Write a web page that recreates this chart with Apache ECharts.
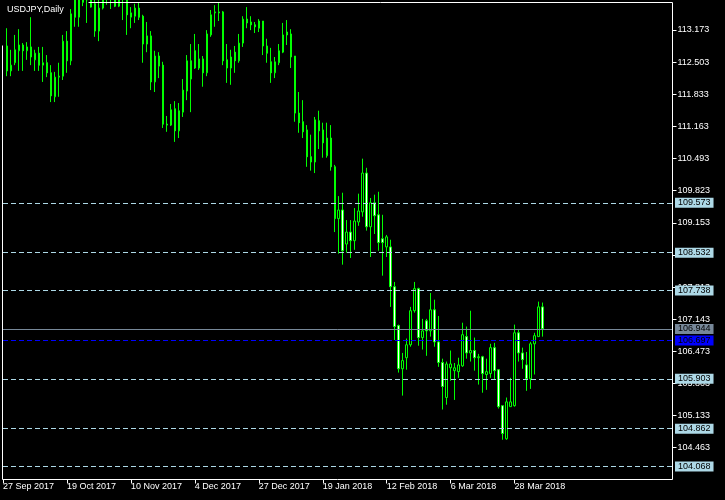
<!DOCTYPE html>
<html><head><meta charset="utf-8">
<script src="https://cdn.jsdelivr.net/npm/echarts@6/dist/echarts.min.js"></script>
<style>html,body{margin:0;padding:0;background:#000;}#c{width:725px;height:500px;}</style>
</head><body><div id="c"></div>
<script>
const chartTitle = 'USDJPY,Daily';
const firstBar = 1;
const opens = [
112.84,112.32,112.49,112.74,112.86,112.74,112.82,112.55,112.69,112.44,
112.49,112.28,111.78,112.19,112.21,112.94,112.53,113.90,113.44,113.95,
113.80,114.00,113.72,113.15,113.63,114.10,114.05,114.05,113.67,113.95,
113.85,113.44,113.46,113.63,113.46,112.88,113.05,112.09,112.63,112.44,
111.21,111.19,111.53,111.07,111.46,111.90,112.53,112.74,112.38,112.57,
112.28,113.07,113.53,113.55,113.55,112.55,112.38,112.71,112.53,112.90,
113.40,113.34,113.28,113.21,113.36,112.84,112.51,112.28,112.49,112.71,
113.13,113.09,112.63,111.44,111.26,111.09,110.53,110.42,111.28,111.09,
110.55,110.92,110.32,109.24,109.42,108.71,108.96,108.78,109.17,109.38,
110.19,109.07,109.57,109.32,108.82,108.65,108.65,107.82,107.01,106.11,
106.34,106.61,107.32,107.78,106.76,107.11,106.90,107.34,106.67,106.24,
105.51,106.13,106.07,106.05,106.17,106.78,106.44,106.49,106.34,106.36,
105.99,106.01,106.55,106.09,105.34,104.65,105.32,105.34,106.86,106.44,
106.19,105.90,106.63,106.78,107.40];
const closes = [
112.32,112.44,112.76,112.86,112.74,112.82,112.61,112.69,112.44,112.49,
112.28,111.80,112.19,112.21,112.94,112.53,113.51,113.44,113.90,113.75,
114.05,113.65,113.15,113.63,114.10,114.05,114.00,113.67,113.95,113.85,
113.49,113.53,113.63,113.44,112.88,113.05,112.09,112.63,112.42,111.21,
111.19,111.51,111.07,111.49,111.92,112.53,112.15,112.38,112.57,112.28,
113.09,113.49,113.55,113.53,112.53,112.38,112.61,112.53,112.90,113.40,
113.32,113.28,113.24,113.36,112.84,112.69,112.28,112.51,112.74,113.07,
113.07,112.61,111.44,111.24,111.05,110.53,110.42,111.30,111.07,110.82,
110.92,110.32,109.24,109.42,108.57,108.96,108.78,109.19,109.40,110.19,
109.07,109.57,109.30,108.74,108.74,108.86,107.82,106.99,106.11,106.28,
106.61,107.32,107.78,106.76,106.90,106.90,107.34,106.67,106.24,105.74,
106.21,106.21,106.13,106.19,106.82,106.44,106.49,106.34,106.36,106.01,
106.05,106.55,106.07,105.32,104.76,105.42,105.42,106.86,106.44,106.30,
105.90,106.63,106.80,107.40,106.944];
const lows = [
112.21,112.21,112.44,112.32,112.32,112.55,112.44,112.32,112.32,112.09,
112.19,111.67,111.67,111.78,112.13,112.28,112.44,113.24,113.24,113.67,
113.32,113.64,113.03,112.94,113.60,113.70,113.61,113.65,113.65,113.38,
113.07,113.21,113.32,113.38,112.49,112.71,111.92,111.88,112.17,111.13,
111.05,111.17,110.84,110.92,111.36,111.71,111.46,112.36,112.34,111.99,
112.21,113.03,113.24,113.36,112.44,112.07,112.03,112.28,112.49,112.82,
113.21,113.17,113.11,113.13,112.65,112.49,112.07,112.17,112.44,112.69,
112.86,112.38,111.26,111.03,110.92,110.32,110.24,110.19,110.69,110.51,
110.51,110.24,108.96,108.51,108.28,108.53,108.42,108.59,109.09,109.28,
108.99,108.44,108.92,108.57,108.05,108.44,107.40,106.71,106.03,105.55,
106.09,106.57,107.28,106.59,106.51,106.38,106.78,106.57,106.15,105.26,
105.36,105.86,105.46,105.92,106.15,106.32,106.26,106.07,105.78,105.61,
105.67,105.92,105.88,105.28,104.63,104.63,105.32,105.32,106.26,106.11,
105.65,105.69,105.99,106.78,106.78];
const highs = [
113.21,112.76,113.07,113.19,112.90,112.92,113.44,112.76,112.82,112.82,
112.65,112.44,112.30,112.49,113.07,113.15,113.61,114.10,114.05,114.20,
114.25,114.30,113.85,113.85,114.30,114.30,114.40,114.70,114.10,114.05,
114.00,113.65,113.72,113.74,113.49,113.34,113.15,112.74,112.71,112.51,
111.38,111.63,111.69,111.65,112.15,112.65,112.88,113.09,112.88,112.63,
113.17,113.59,113.69,113.74,113.57,112.88,112.76,112.84,113.09,113.46,
113.65,113.46,113.34,113.40,113.36,112.99,112.80,112.61,112.88,113.32,
113.38,113.19,112.63,111.88,111.71,111.19,110.99,111.36,111.49,111.24,
111.24,111.19,110.36,109.71,109.78,109.21,109.21,109.46,109.76,110.49,
110.30,109.67,109.74,109.80,109.32,108.90,108.80,107.92,107.03,106.44,
106.74,107.40,107.92,107.80,107.15,107.15,107.69,107.55,107.21,106.32,
106.26,106.49,106.23,106.34,107.07,106.99,107.32,106.76,106.42,106.38,
106.32,106.63,106.65,106.09,105.34,105.51,105.92,107.03,106.94,106.55,
106.46,106.67,106.86,107.51,107.49];
const dateTickIndex = [0,16,32,48,64,80,96,112,128];
const dateTickLabels = ['27 Sep 2017','19 Oct 2017','10 Nov 2017','4 Dec 2017','27 Dec 2017','19 Jan 2018','12 Feb 2018','6 Mar 2018','28 Mar 2018'];
const priceTicks = [113.173,112.503,111.833,111.163,110.493,109.823,109.153,108.483,107.813,107.143,106.473,105.803,105.133,104.463];
const levelValues = [109.573,108.532,107.738,105.903,104.862,104.068];
const bidLevel = 106.944;
const blueLevel = 106.697;
const yMin = 103.801, yMax = 113.746;
const xMax = 167.5;

const FONT = 'Liberation Sans';
const candles = opens.map((o, k) => [k + firstBar, o, closes[k], lows[k], highs[k]]);

function level(v, lineColor, dash, bg, fg) {
  return {
    yAxis: v,
    lineStyle: { color: lineColor, type: dash, width: 1 },
    label: {
      show: true, position: 'end', distance: 2.5,
      formatter: v.toFixed(3), backgroundColor: bg, color: fg,
      fontFamily: FONT, fontSize: 9, lineHeight: 9, padding: [1, 3, 0, 3]
    }
  };
}
const markData = levelValues.map(v => level(v, '#add8e6', [5, 3], '#add8e6', '#000'));
markData.push(level(bidLevel, '#778899', 'solid', '#778899', '#000'));
markData.push(level(blueLevel, '#0000ff', [5, 3], '#0000ff', '#000'));

const chart = echarts.init(document.getElementById('c'), null, { renderer: 'canvas' });
chart.setOption({
  animation: false,
  backgroundColor: '#000',
  title: { text: chartTitle, left: 7, top: 5, padding: 0, textStyle: { color: '#fff', fontSize: 9, fontWeight: 'normal', fontFamily: FONT } },
  grid: { left: 2.5, top: 2.5, right: 52.5, bottom: 20.5, show: false, containLabel: false },
  graphic: [{
    type: 'polyline', silent: true, z: 10,
    shape: { points: [[88.5, 2.5], [672.5, 2.5], [672.5, 479.5], [2.5, 479.5], [2.5, 45.5]] },
    style: { stroke: '#fff', lineWidth: 1, fill: null }
  }],
  xAxis: {
    type: 'value', min: 0, max: xMax,
    axisLine: { show: false, onZero: false },
    splitLine: { show: false },
    axisTick: { show: true, length: 4, lineStyle: { color: '#fff' }, customValues: dateTickIndex },
    axisLabel: { show: true, color: '#fff', fontFamily: FONT, fontSize: 9, align: 'left', margin: 3,
      customValues: dateTickIndex,
      formatter: v => dateTickLabels[dateTickIndex.indexOf(Math.round(v))] || '' }
  },
  yAxis: {
    type: 'value', position: 'right', min: yMin, max: yMax,
    axisLine: { show: false, onZero: false },
    splitLine: { show: false },
    axisTick: { show: true, inside: false, length: 4, lineStyle: { color: '#fff' }, customValues: priceTicks },
    axisLabel: { show: true, color: '#fff', fontFamily: FONT, fontSize: 9, margin: 5,
      customValues: priceTicks, formatter: v => Number(v).toFixed(3) }
  },
  series: [{
    type: 'candlestick',
    data: candles,
    barWidth: 2,
    clip: true,
    itemStyle: { color: '#000', color0: '#fff', borderColor: '#00ff00', borderColor0: '#00ff00', borderColorDoji: '#00ff00', borderWidth: 1 },
    markLine: { silent: true, symbol: ['none', 'none'], animation: false, data: markData }
  }]
});
</script>
</body></html>
